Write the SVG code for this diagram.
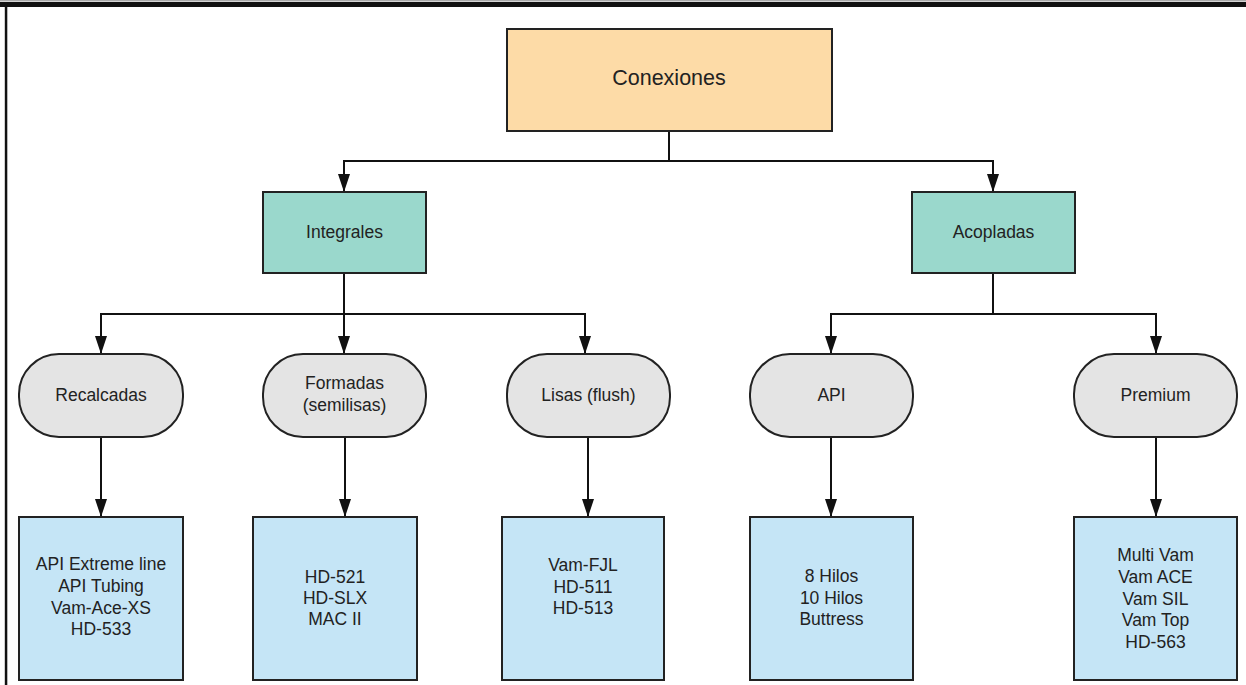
<svg xmlns="http://www.w3.org/2000/svg" width="1246" height="685" viewBox="0 0 1246 685">
<style>
text{font-family:"Liberation Sans",Arial,sans-serif;fill:#222;text-anchor:middle;font-size:17.5px}
.top{fill:#FDDBA7;stroke:#222;stroke-width:2}
.mid{fill:#9AD8CC;stroke:#222;stroke-width:2}
.pill{fill:#E4E4E4;stroke:#222;stroke-width:2}
.leaf{fill:#C5E5F6;stroke:#222;stroke-width:2}
.conn{fill:none;stroke:#111;stroke-width:2}
.ar{marker-end:url(#arr)}
</style>
<defs>
<marker id="arr" viewBox="0 0 18 12" refX="18" refY="6" markerWidth="18" markerHeight="12" markerUnits="userSpaceOnUse" orient="auto">
<path d="M0,0 L18,6 L0,12 z" fill="#111"/>
</marker>
</defs>
<rect x="0" y="0" width="1246" height="685" fill="#fff"/>
<g id="frame">
<rect x="0" y="0" width="1246" height="1.5" fill="#aaa"/>
<rect x="0" y="2" width="1246" height="5" fill="#111"/>
<rect x="4.8" y="2" width="2.5" height="683" fill="#111"/>
</g>
<g id="connectors">
<path class="conn" d="M669,131 V161"/>
<path class="conn ar" d="M669,161 H344 V192"/>
<path class="conn ar" d="M669,161 H993 V192"/>
<path class="conn" d="M344,273 V314"/>
<path class="conn ar" d="M344,314 H101 V354"/>
<path class="conn ar" d="M344,314 V354"/>
<path class="conn ar" d="M344,314 H585 V354"/>
<path class="conn" d="M993,273 V314"/>
<path class="conn ar" d="M993,314 H831 V354"/>
<path class="conn ar" d="M993,314 H1156 V354"/>
<path class="conn ar" d="M101,437 V517"/>
<path class="conn ar" d="M345,437 V517"/>
<path class="conn ar" d="M588,437 V517"/>
<path class="conn ar" d="M831,437 V517"/>
<path class="conn ar" d="M1156,437 V517"/>
</g>
<g id="conexiones">
<rect class="top" x="507" y="29" width="325" height="102"/>
<text x="669" y="84.5" style="font-size:21.5px">Conexiones</text>
</g>
<g id="integrales">
<rect class="mid" x="263" y="192" width="163" height="81"/>
<text x="344.5" y="237.5">Integrales</text>
</g>
<g id="acopladas">
<rect class="mid" x="912" y="192" width="163" height="81"/>
<text x="993.5" y="237.5">Acopladas</text>
</g>
<g id="recalcadas">
<rect class="pill" x="19" y="354" width="164" height="83" rx="40" ry="40"/>
<text x="101" y="400.5">Recalcadas</text>
</g>
<g id="formadas">
<rect class="pill" x="263" y="354" width="163" height="83" rx="40" ry="40"/>
<text x="344.5" y="388.5">Formadas</text>
<text x="344.5" y="410.5">(semilisas)</text>
</g>
<g id="lisas">
<rect class="pill" x="507" y="354" width="163" height="83" rx="40" ry="40"/>
<text x="588.5" y="400.5">Lisas (flush)</text>
</g>
<g id="api">
<rect class="pill" x="750" y="354" width="163" height="83" rx="40" ry="40"/>
<text x="831.5" y="400.5">API</text>
</g>
<g id="premium">
<rect class="pill" x="1074" y="354" width="163" height="83" rx="40" ry="40"/>
<text x="1155.5" y="400.5">Premium</text>
</g>
<g id="leaf-recalcadas">
<rect class="leaf" x="19" y="517" width="164" height="163"/>
<text x="101" y="569.5">API Extreme line</text>
<text x="101" y="591.5">API Tubing</text>
<text x="101" y="613.5">Vam-Ace-XS</text>
<text x="101" y="634.5">HD-533</text>
</g>
<g id="leaf-formadas">
<rect class="leaf" x="253" y="517" width="164" height="163"/>
<text x="335" y="582.5">HD-521</text>
<text x="335" y="604">HD-SLX</text>
<text x="335" y="625">MAC II</text>
</g>
<g id="leaf-lisas">
<rect class="leaf" x="502" y="517" width="162" height="163"/>
<text x="583" y="570.5">Vam-FJL</text>
<text x="583" y="592.5">HD-511</text>
<text x="583" y="613.5">HD-513</text>
</g>
<g id="leaf-api">
<rect class="leaf" x="750" y="517" width="163" height="163"/>
<text x="831.5" y="581.5">8 Hilos</text>
<text x="831.5" y="603.5">10 Hilos</text>
<text x="831.5" y="624.5">Buttress</text>
</g>
<g id="leaf-premium">
<rect class="leaf" x="1074" y="517" width="163" height="163"/>
<text x="1155.5" y="560.5">Multi Vam</text>
<text x="1155.5" y="582.5">Vam ACE</text>
<text x="1155.5" y="604.5">Vam SIL</text>
<text x="1155.5" y="625.5">Vam Top</text>
<text x="1155.5" y="647.5">HD-563</text>
</g>
</svg>
